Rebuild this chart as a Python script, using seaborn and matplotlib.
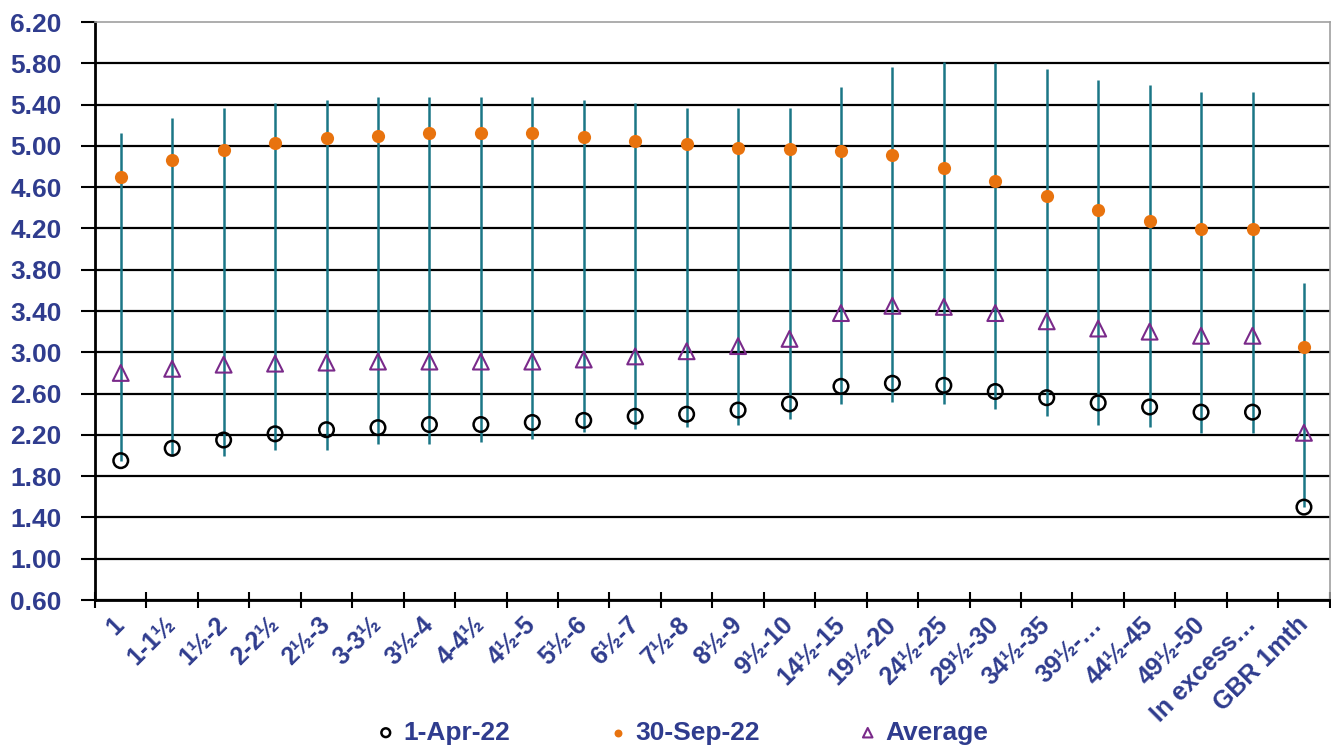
import matplotlib
matplotlib.use("Agg")
import matplotlib.pyplot as plt
import numpy as np
import pandas as pd
import seaborn as sns

# Maturity buckets along the x axis
categories = [
    "1", "1-1½", "1½-2", "2-2½", "2½-3", "3-3½", "3½-4", "4-4½", "4½-5",
    "5½-6", "6½-7", "7½-8", "8½-9", "9½-10", "14½-15", "19½-20", "24½-25",
    "29½-30", "34½-35", "39½-…", "44½-45", "49½-50", "In excess…", "GBR 1mth",
]

# Rates
apr_22 = [1.95, 2.07, 2.15, 2.21, 2.25, 2.27, 2.30, 2.30, 2.32, 2.34, 2.38, 2.40,
          2.44, 2.50, 2.67, 2.70, 2.68, 2.62, 2.56, 2.51, 2.47, 2.42, 2.42, 1.50]
sep_22 = [4.70, 4.86, 4.96, 5.03, 5.08, 5.10, 5.12, 5.12, 5.12, 5.09, 5.05, 5.02,
          4.98, 4.97, 4.95, 4.91, 4.79, 4.66, 4.51, 4.38, 4.27, 4.19, 4.19, 3.05]
average = [2.80, 2.84, 2.88, 2.89, 2.90, 2.91, 2.91, 2.91, 2.91, 2.93, 2.96, 3.01,
           3.06, 3.13, 3.38, 3.45, 3.44, 3.38, 3.30, 3.23, 3.20, 3.16, 3.16, 2.22]
high = [5.12, 5.27, 5.37, 5.42, 5.44, 5.47, 5.47, 5.47, 5.47, 5.44, 5.42, 5.37,
        5.37, 5.37, 5.57, 5.76, 5.81, 5.80, 5.74, 5.64, 5.59, 5.52, 5.52, 3.67]
low = [1.95, 2.00, 2.00, 2.05, 2.05, 2.11, 2.11, 2.13, 2.16, 2.23, 2.26, 2.28,
       2.30, 2.35, 2.50, 2.52, 2.50, 2.45, 2.38, 2.30, 2.28, 2.22, 2.22, 1.50]

y_ticks = [0.60, 1.00, 1.40, 1.80, 2.20, 2.60, 3.00, 3.40, 3.80, 4.20, 4.60, 5.00,
           5.40, 5.80, 6.20]

NAVY = "#2F3C8E"
TEAL = "#1B7686"
ORANGE = "#E8730E"
PURPLE = "#7A2A8A"

sns.set_theme(style="white")
plt.rcParams["font.family"] = ["Liberation Sans", "DejaVu Sans"]
plt.rcParams["font.weight"] = "bold"

df = pd.DataFrame({
    "pos": np.arange(len(categories)),
    "apr": apr_22, "sep": sep_22, "avg": average, "high": high, "low": low,
})

fig = plt.figure(figsize=(13.31, 7.46), dpi=100)
ax = fig.add_axes([0.0714, 0.1957, 0.9276, 0.7748])

# High-low range lines
ax.vlines(df["pos"], df["low"], df["high"], color=TEAL, lw=1.8, zorder=2)

sns.scatterplot(data=df, x="pos", y="apr", ax=ax, marker="o", s=110,
                facecolor="none", edgecolor="black", linewidth=1.8,
                label="1-Apr-22", zorder=3)
sns.scatterplot(data=df, x="pos", y="sep", ax=ax, marker="o", s=90,
                color=ORANGE, edgecolor=ORANGE, linewidth=0,
                label="30-Sep-22", zorder=3)
sns.scatterplot(data=df, x="pos", y="avg", ax=ax, marker="^", s=130,
                facecolor="none", edgecolor=PURPLE, linewidth=1.5,
                label="Average", zorder=3)

ax.set_xlim(-0.5, len(categories) - 0.5)
ax.set_ylim(0.60, 6.20)
ax.set_yticks(y_ticks)
ax.set_yticklabels([f"{v:.2f}" for v in y_ticks], color=NAVY,
                   fontsize=19, fontweight="bold")
ax.set_xlabel("")
ax.set_ylabel("")

# labels at category centres, tick marks at category boundaries
ax.set_xticks(df["pos"])
ax.set_xticklabels(categories, rotation=45, ha="right", va="center",
                   rotation_mode="anchor", color=NAVY, fontsize=18,
                   fontweight="bold")
ax.set_xticks(np.arange(len(categories) + 1) - 0.5, minor=True)
ax.tick_params(axis="x", which="major", length=0, pad=15)
ax.tick_params(axis="x", which="minor", direction="inout", length=12,
               width=1.5, color="black", bottom=True)
ax.tick_params(axis="y", which="major", direction="out", length=10,
               width=1.5, color="black", left=True, pad=14)

ax.yaxis.grid(True, color="black", lw=1.6)
ax.get_ygridlines()[-1].set_visible(False)
ax.xaxis.grid(False)
ax.set_axisbelow(True)

for side in ["left", "bottom"]:
    ax.spines[side].set_color("black")
    ax.spines[side].set_linewidth(2)
for side in ["top", "right"]:
    ax.spines[side].set_color("#A0A0A0")
    ax.spines[side].set_linewidth(1.2)

handles, labels = ax.get_legend_handles_labels()
ax.get_legend().remove()
leg = fig.legend(handles, labels, loc="lower center", bbox_to_anchor=(0.513, -0.03),
                 ncol=3, frameon=False, columnspacing=3.8, handletextpad=0.35,
                 handlelength=0.6, markerscale=0.6,
                 prop={"size": 19, "weight": "bold"})
for txt in leg.get_texts():
    txt.set_color(NAVY)

fig.savefig("out.png", dpi=100)
